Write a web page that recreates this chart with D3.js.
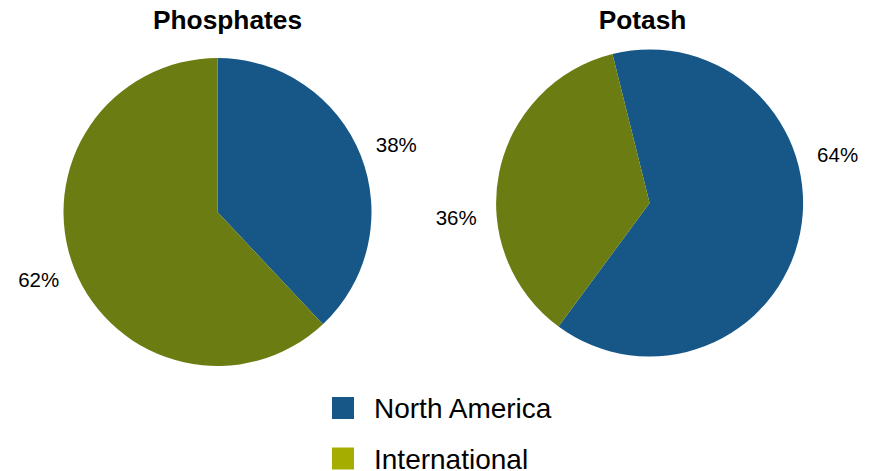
<!DOCTYPE html>
<html>
<head>
<meta charset="utf-8">
<script src="https://cdn.jsdelivr.net/npm/d3@7/dist/d3.min.js"></script>
<style>
  html, body { margin: 0; padding: 0; background: #fff; }
  svg { display: block; font-family: "Liberation Sans", Arial, sans-serif; }
</style>
</head>
<body>
<svg id="chart" width="874" height="471"></svg>
<script>
// ---- data ----
const charts = ["Phosphates", "Potash"];
const categories = ["North America", "International"];
const phosphatesValues = [38, 62];
const potashValues = [64, 36];

// ---- layout / style ----
const colors = ["#175787", "#6b7c12"];
const legendColors = ["#175787", "#a5ad00"];
const panels = [
  { cx: 217.5, cy: 212, r: 154, titleX: 227.5, start: 0, labelR: 191, labelShift: [1, 1] },
  { cx: 649.6, cy: 203, r: 153.5, titleX: 642.5, start: -14, labelR: 194, labelShift: [-25.5, -15.5] }
];
const seriesValues = [phosphatesValues, potashValues];

const svg = d3.select("#chart");
const deg = Math.PI / 180;

charts.forEach((name, i) => {
  const p = panels[i];
  const pie = d3.pie().sort(null).value(d => d)
    .startAngle(p.start * deg).endAngle((p.start + 360) * deg);
  const arcs = pie(seriesValues[i]);
  const arc = d3.arc().innerRadius(0).outerRadius(p.r);
  const g = svg.append("g").attr("transform", `translate(${p.cx},${p.cy})`);

  g.selectAll("path").data(arcs).join("path")
    .attr("d", arc)
    .attr("fill", (d, j) => colors[j]);

  g.selectAll("text.lbl").data(arcs).join("text")
    .attr("class", "lbl")
    .attr("transform", (d, j) => {
      const a = (d.startAngle + d.endAngle) / 2 + p.labelShift[j] * deg;
      return `translate(${Math.sin(a) * p.labelR},${-Math.cos(a) * p.labelR})`;
    })
    .attr("text-anchor", "middle")
    .attr("dy", "0.36em")
    .attr("font-size", 20.5)
    .attr("fill", "#000")
    .text(d => d.data + "%");

  svg.append("text")
    .attr("x", p.titleX).attr("y", 29)
    .attr("text-anchor", "middle")
    .attr("font-size", 26.3)
    .attr("font-weight", "bold")
    .attr("fill", "#000")
    .text(name);
});

// legend
const legend = svg.append("g").attr("transform", "translate(332,397)");
const items = legend.selectAll("g").data(categories).join("g")
  .attr("transform", (d, j) => `translate(0,${j * 50.5})`);
items.append("rect")
  .attr("width", 22).attr("height", 22)
  .attr("fill", (d, j) => legendColors[j]);
items.append("text")
  .attr("x", 42).attr("y", (d, j) => 20.5 + j * 0.5)
  .attr("font-size", 28)
  .attr("fill", "#000")
  .text(d => d);
</script>
</body>
</html>
